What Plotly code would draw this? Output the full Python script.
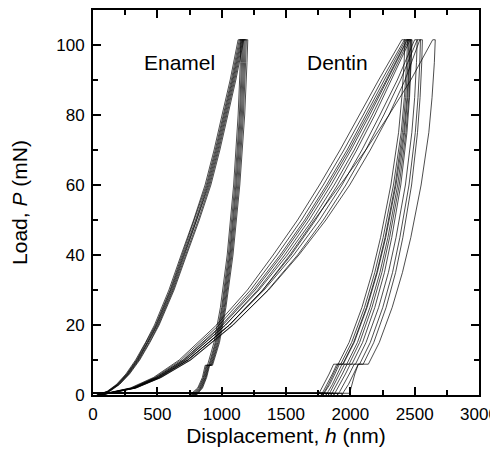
import plotly.graph_objects as go

# ---------------- data ----------------
# Enamel: load levels (mN) for the loading branch and the unloading branch
ENAMEL_P_LOAD = [0, 1, 3, 6, 10, 15, 20, 30, 40, 50, 60, 70, 80, 90, 101.5]
ENAMEL_P_UNLOAD = [101.5, 95, 80, 60, 40, 25, 15, 8.5, 8.5, 5, 2, 0, 0.5, 0.5]

# displacement (nm) for each enamel indent, loading branch
enamel_h_load = [
    [28, 108, 182, 256, 331, 408, 478, 590, 685, 782, 871, 941, 1003, 1066, 1128],
    [30, 112, 187, 262, 338, 415, 486, 599, 694, 791, 880, 950, 1012, 1075, 1137],
    [32, 115, 190, 266, 342, 420, 491, 604, 700, 797, 887, 957, 1019, 1082, 1145],
    [35, 118, 194, 270, 347, 425, 496, 610, 706, 804, 894, 964, 1026, 1088, 1152],
    [37, 121, 198, 274, 352, 430, 502, 617, 713, 811, 901, 971, 1033, 1095, 1158],
    [40, 125, 202, 279, 357, 436, 508, 623, 720, 818, 908, 978, 1040, 1102, 1165],
    [43, 128, 206, 284, 363, 442, 514, 630, 727, 826, 916, 986, 1048, 1110, 1172],
]
# displacement (nm) for each enamel indent, unloading branch (incl. holds and return)
enamel_h_unload = [
    [1150, 1145, 1128, 1093, 1043, 990, 940, 890, 872, 850, 814, 752, 752, 0],
    [1160, 1154, 1138, 1102, 1052, 1000, 950, 900, 880, 857, 821, 764, 764, 0],
    [1167, 1162, 1145, 1110, 1060, 1006, 956, 906, 886, 862, 828, 774, 774, 0],
    [1175, 1170, 1153, 1117, 1066, 1013, 963, 912, 892, 868, 834, 782, 782, 0],
    [1183, 1178, 1161, 1125, 1073, 1020, 970, 918, 897, 873, 840, 790, 790, 0],
    [1192, 1186, 1169, 1133, 1080, 1026, 976, 923, 902, 878, 845, 797, 797, 0],
    [1203, 1197, 1179, 1141, 1088, 1033, 983, 929, 907, 883, 851, 805, 805, 0],
]

# Dentin: load levels (mN)
DENTIN_P_LOAD = [0, 2, 5, 10, 20, 30, 40, 50, 60, 70, 80, 90, 101.5]
DENTIN_P_UNLOAD = [101.5, 95, 85, 75, 60, 45, 35, 25, 15, 8.8, 8.8, 6, 3, 1, 0, 0.5, 0.5]

dentin_h_load = [
    [40, 290, 470, 670, 960, 1200, 1400, 1590, 1760, 1920, 2070, 2220, 2400],
    [45, 300, 480, 685, 980, 1225, 1430, 1620, 1790, 1950, 2100, 2245, 2420],
    [50, 310, 490, 700, 1000, 1245, 1455, 1645, 1815, 1975, 2120, 2265, 2430],
    [40, 305, 490, 705, 1010, 1260, 1470, 1660, 1830, 1990, 2135, 2280, 2440],
    [55, 320, 505, 720, 1030, 1280, 1490, 1680, 1850, 2005, 2150, 2290, 2445],
    [50, 315, 500, 715, 1030, 1290, 1510, 1705, 1875, 2030, 2170, 2305, 2455],
    [60, 330, 520, 740, 1060, 1320, 1540, 1730, 1900, 2050, 2190, 2320, 2465],
    [50, 320, 510, 735, 1060, 1330, 1560, 1760, 1935, 2090, 2230, 2365, 2500],
    [60, 335, 530, 760, 1090, 1360, 1590, 1790, 1965, 2120, 2260, 2390, 2520],
    [55, 330, 525, 755, 1085, 1365, 1600, 1810, 1995, 2155, 2300, 2425, 2540],
    [50, 320, 510, 735, 1060, 1320, 1530, 1720, 1920, 2120, 2300, 2470, 2640],
]
dentin_h_unload = [
    [2425, 2418, 2400, 2375, 2315, 2235, 2170, 2090, 1990, 1905, 1870, 1835, 1795, 1765, 1750, 1750, 0],
    [2445, 2438, 2420, 2395, 2335, 2255, 2190, 2110, 2010, 1925, 1895, 1860, 1820, 1790, 1775, 1775, 0],
    [2455, 2448, 2430, 2405, 2348, 2270, 2205, 2125, 2025, 1940, 1905, 1870, 1830, 1800, 1785, 1785, 0],
    [2465, 2458, 2440, 2415, 2355, 2275, 2210, 2130, 2030, 1945, 1915, 1880, 1840, 1805, 1790, 1790, 0],
    [2468, 2462, 2446, 2422, 2368, 2292, 2230, 2152, 2055, 1972, 1935, 1900, 1860, 1828, 1812, 1812, 0],
    [2475, 2470, 2455, 2432, 2380, 2305, 2245, 2168, 2072, 1990, 1955, 1918, 1878, 1846, 1830, 1830, 0],
    [2480, 2474, 2460, 2440, 2392, 2322, 2265, 2190, 2095, 2012, 1975, 1938, 1898, 1865, 1850, 1850, 0],
    [2520, 2514, 2500, 2478, 2428, 2355, 2296, 2220, 2122, 2040, 2000, 1962, 1920, 1888, 1872, 1872, 0],
    [2545, 2540, 2526, 2505, 2456, 2385, 2328, 2252, 2155, 2072, 2030, 1992, 1950, 1918, 1900, 1900, 0],
    [2560, 2555, 2542, 2522, 2476, 2408, 2352, 2278, 2182, 2100, 2062, 2025, 1985, 1950, 1935, 1935, 0],
    [2660, 2653, 2635, 2610, 2550, 2470, 2405, 2325, 2225, 2140, 2062, 2035, 2010, 1998, 1995, 1995, 0],
]

X_TICKS = [0, 500, 1000, 1500, 2000, 2500, 3000]
Y_TICKS = [0, 20, 40, 60, 80, 100]
LABELS = ["Enamel", "Dentin"]
LABEL_POS_H = [670, 1900]
LABEL_POS_P = [95, 95]

FONT = "Liberation Sans, Arial, sans-serif"

# ---------------- figure ----------------
fig = go.Figure()
line_style = dict(color="black", width=0.7)

for hl, hu in zip(enamel_h_load, enamel_h_unload):
    fig.add_trace(go.Scatter(x=hl + hu, y=ENAMEL_P_LOAD + ENAMEL_P_UNLOAD,
                             mode="lines", line=line_style, showlegend=False,
                             hoverinfo="skip"))
for hl, hu in zip(dentin_h_load, dentin_h_unload):
    fig.add_trace(go.Scatter(x=hl + hu, y=DENTIN_P_LOAD + DENTIN_P_UNLOAD,
                             mode="lines", line=line_style, showlegend=False,
                             hoverinfo="skip"))

for txt, hx, py in zip(LABELS, LABEL_POS_H, LABEL_POS_P):
    fig.add_annotation(x=hx, y=py, text=txt, showarrow=False,
                       font=dict(family=FONT, size=21, color="black"))

axis_common = dict(
    showline=True, linewidth=2, linecolor="black", mirror="allticks",
    ticks="inside", ticklen=8, tickwidth=1.5, tickcolor="black",
    showgrid=False, zeroline=False, ticklabelstandoff=3,
    tickfont=dict(family=FONT, size=17, color="black"),
)

fig.update_xaxes(
    range=[0, 3000], tickvals=X_TICKS,
    minor=dict(ticks="inside", ticklen=5, tickwidth=1.5, tickcolor="black", dtick=250, showgrid=False),
    title=dict(text="Displacement, <i>h</i> (nm)", standoff=4,
               font=dict(family=FONT, size=21, color="black")),
    **axis_common)
fig.update_yaxes(
    range=[0, 110], tickvals=Y_TICKS,
    minor=dict(ticks="inside", ticklen=5, tickwidth=1.5, tickcolor="black", dtick=10, showgrid=False),
    title=dict(text="Load, <i>P</i> (mN)", standoff=25,
               font=dict(family=FONT, size=21, color="black")),
    **axis_common)

# page body has an 8 px margin, so the figure is sized to fit the 498x460 window
fig.update_layout(
    width=490, height=452,
    margin=dict(l=85, r=19, t=2, b=65, autoexpand=False),
    paper_bgcolor="white", plot_bgcolor="white",
)

fig.write_html("out.html")
